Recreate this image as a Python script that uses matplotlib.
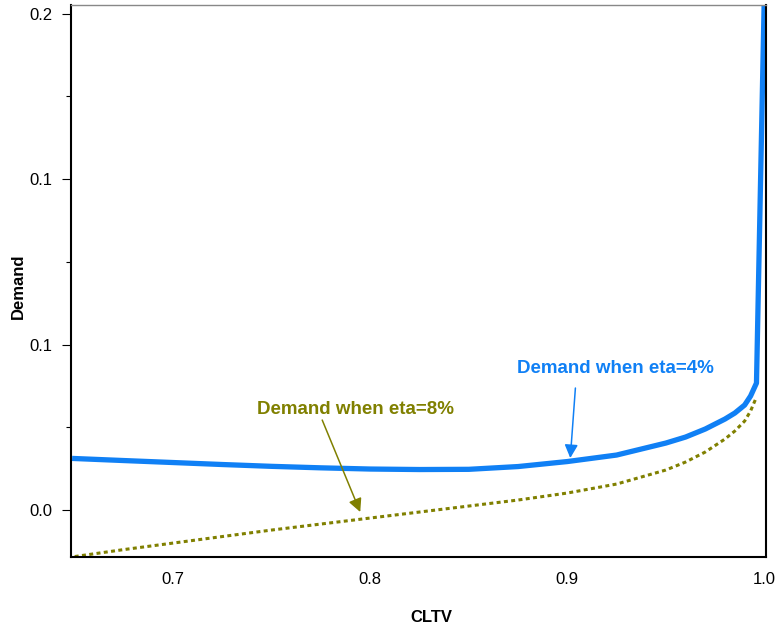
import matplotlib
matplotlib.use("Agg")
import matplotlib.pyplot as plt
from matplotlib.ticker import FixedLocator, FormatStrFormatter

plt.rcParams['font.family'] = ['Liberation Sans', 'DejaVu Sans']

# CLTV grid and demand curves for the two eta values
cltv = [0.65, 0.675, 0.70, 0.725, 0.75, 0.775, 0.80, 0.825, 0.85, 0.875, 0.90,
        0.925, 0.95, 0.96, 0.97, 0.98, 0.985, 0.99, 0.993, 0.996, 1.0]
demand_eta4 = [0.05245, 0.05196, 0.05148, 0.05100, 0.05056, 0.05020, 0.04991,
               0.04979, 0.04984, 0.05051, 0.05172, 0.05329, 0.05619, 0.05764,
               0.05958, 0.06199, 0.06344, 0.06538, 0.06755, 0.07069, 0.1650]
cltv_eta8 = cltv[:-1]
demand_eta8 = [0.02876, 0.03045, 0.03202, 0.03360, 0.03517, 0.03662, 0.03807,
               0.03952, 0.04097, 0.04242, 0.04411, 0.04628, 0.04967, 0.05160,
               0.05402, 0.05716, 0.05909, 0.06151, 0.06393, 0.06731]

blue = '#1080f5'
olive = '#808000'

fig, ax = plt.subplots(figsize=(7.78, 6.33), dpi=100)
fig.subplots_adjust(left=0.091, right=0.985, top=0.992, bottom=0.12)

ax.plot(cltv_eta8, demand_eta8, color=olive, lw=2.2, ls=(0, (1.3, 1.1)))
ax.plot(cltv, demand_eta4, color=blue, lw=3.8, solid_joinstyle='round')

ax.set_xlim(0.648, 1.001)
ax.set_ylim(0.02864, 0.16205)

ax.set_xticks([0.7, 0.8, 0.9, 1.0])
ax.xaxis.set_major_formatter(FormatStrFormatter('%.1f'))
ax.yaxis.set_major_locator(FixedLocator([0.04, 0.08, 0.12, 0.16]))
ax.yaxis.set_minor_locator(FixedLocator([0.06, 0.10, 0.14]))
ax.yaxis.set_major_formatter(FormatStrFormatter('%.1f'))

ax.tick_params(axis='x', length=0, pad=11, labelsize=12)
ax.tick_params(axis='y', which='major', length=6.5, width=0.8, labelsize=12, pad=7)
ax.tick_params(axis='y', which='minor', length=3.5, width=0.8)

for side in ['left', 'bottom', 'right']:
    ax.spines[side].set_linewidth(1.5)
ax.spines['top'].set_color('#888888')
ax.spines['top'].set_linewidth(1.0)

ax.set_xlabel('CLTV', fontsize=12, fontweight='bold', va='center')
ax.xaxis.set_label_coords(0.519, -0.109)
ax.set_ylabel('Demand', fontsize=12, fontweight='bold', va='center')
ax.yaxis.set_label_coords(-0.076, 0.49)

# curve labels with pointer arrows
ax.text(0.9245, 0.0741, 'Demand when eta=4%', color=blue, fontsize=13.5,
        fontweight='bold', ha='center', va='center')
ax.annotate('', xy=(0.9015, 0.05257), xytext=(0.9041, 0.06949),
            arrowprops=dict(arrowstyle='-|>', color=blue, lw=1.1,
                            mutation_scale=20, shrinkA=0, shrinkB=0))
ax.text(0.7924, 0.06425, 'Demand when eta=8%', color=olive, fontsize=13.5,
        fontweight='bold', ha='center', va='center')
ax.annotate('', xy=(0.7949, 0.03952), xytext=(0.7756, 0.06175),
            arrowprops=dict(arrowstyle='-|>', color=olive, lw=1.1,
                            mutation_scale=20, shrinkA=0, shrinkB=0))

fig.savefig('out.png', dpi=100)
